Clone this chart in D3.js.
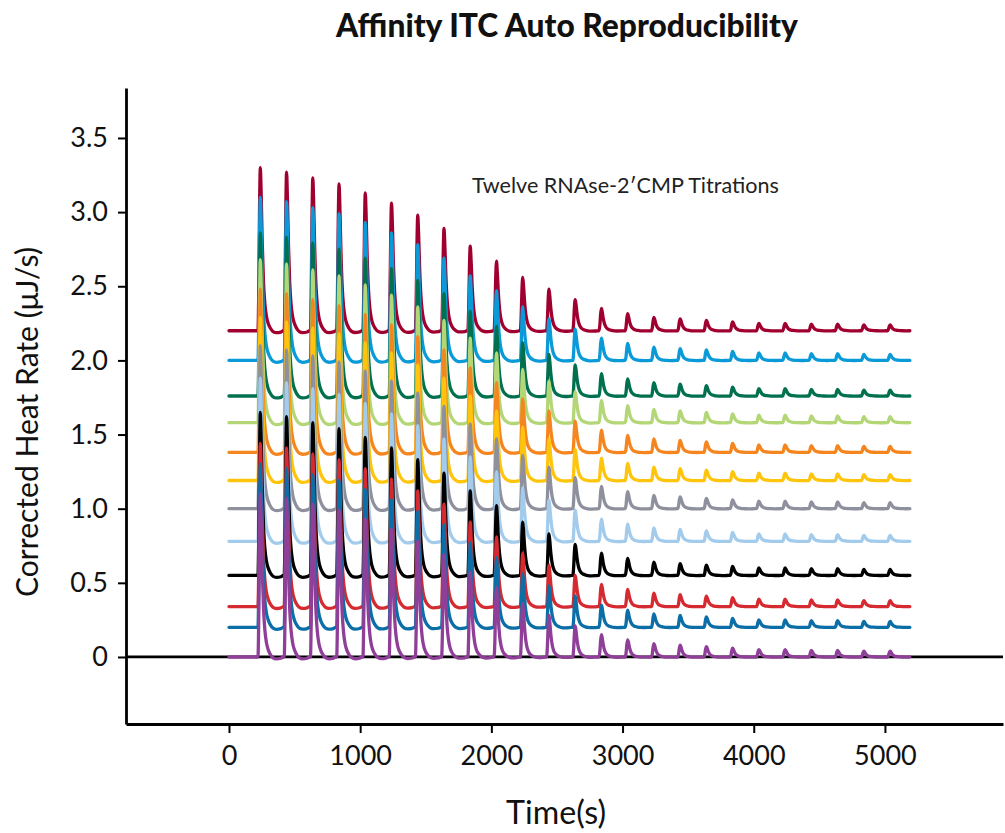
<!DOCTYPE html>
<html>
<head>
<meta charset="utf-8">
<script src="https://cdn.jsdelivr.net/npm/d3@7"></script>
<style>
  html, body { margin: 0; padding: 0; background: #fff; }
  svg { display: block; font-family: Lato, "Open Sans", sans-serif; }
</style>
</head>
<body>
<svg id="chart" width="1005" height="833"></svg>
<script>
// ---------------- data ----------------
const chartTitle = "Affinity ITC Auto Reproducibility";
const annotation = "Twelve RNAse-2\u2032CMP Titrations";
const xLabel = "Time(s)";
const yLabel = "Corrected Heat Rate (\u03bcJ/s)";

const seriesNames = ["Run 1","Run 2","Run 3","Run 4","Run 5","Run 6",
                     "Run 7","Run 8","Run 9","Run 10","Run 11","Run 12"];
// baseline offset of each stacked thermogram (µJ/s)
const baselines = [2.20, 2.00, 1.76, 1.58, 1.38, 1.19, 1.00, 0.78, 0.55, 0.34, 0.20, 0.00];
const seriesColors = ["#a0002f","#0b9ad8","#00704e","#b3d676","#f5861f","#ffc50d",
                      "#8e909d","#a3cbec","#000000","#d62a31","#0b6ea7","#8f3f98"];

// injection start times (s) and peak heights above baseline (µJ/s)
const injectionTimes = [221, 421, 621, 821, 1021, 1221, 1421, 1621, 1821, 2021,
                        2221, 2421, 2621, 2821, 3021, 3221, 3421, 3621, 3821, 4021,
                        4221, 4421, 4621, 4821, 5021];
const peakHeights = [1.10, 1.07, 1.03, 0.99, 0.93, 0.86, 0.78, 0.69, 0.57, 0.47,
                     0.36, 0.28, 0.21, 0.15, 0.115, 0.09, 0.08, 0.07, 0.06, 0.05,
                     0.05, 0.045, 0.045, 0.04, 0.04];
// shape of one injection peak (time after injection, fraction of peak)
const profileDt   = [0, 6, 12, 18, 24, 32, 42, 52, 64, 78, 95, 115, 140, 175, 194];
const profileFrac = [0, 0.25, 0.75, 1.0, 0.85, 0.55, 0.3, 0.17, 0.09, 0.045, 0.015, -0.005, -0.012, -0.008, 0];
const runStart = 0, runEnd = 5190;

const xTicks = [0, 1000, 2000, 3000, 4000, 5000];
const yTicks = [0, 0.5, 1.0, 1.5, 2.0, 2.5, 3.0, 3.5];
const yTickLabels = ["0", "0.5", "1.0", "1.5", "2.0", "2.5", "3.0", "3.5"];

// ---------------- layout ----------------
const svg = d3.select("#chart");
const pLeft = 126, pRight = 1003, pTop = 88, pBottom = 724;

const x = d3.scaleLinear().domain([-785, 5900]).range([pLeft, pRight]);
const y = d3.scaleLinear().domain([-0.452, 3.837]).range([pBottom, pTop]);

function fitText(sel, target) {
  const n = sel.node();
  const fs = parseFloat(sel.attr("font-size"));
  const len = n.getComputedTextLength();
  if (len > 0) sel.attr("font-size", (fs * target / len).toFixed(2));
}

// title
const title = svg.append("text")
  .attr("x", 567).attr("y", 37)
  .attr("text-anchor", "middle")
  .attr("font-weight", "900")
  .attr("font-size", 26)
  .attr("fill", "#111")
  .text(chartTitle);
fitText(title, 462);

// zero line
svg.append("line")
  .attr("x1", pLeft).attr("x2", pRight)
  .attr("y1", y(0)).attr("y2", y(0))
  .attr("stroke", "#000").attr("stroke-width", 2.8);

// series
const line = d3.line()
  .x(d => x(d[0])).y(d => y(d[1]))
  .curve(d3.curveMonotoneX);

function buildSeries(base) {
  const pts = [[runStart, base]];
  injectionTimes.forEach((t0, k) => {
    profileDt.forEach((dt, j) => {
      const t = t0 + dt;
      if (t <= runEnd) pts.push([t, base + peakHeights[k] * profileFrac[j]]);
    });
  });
  pts.push([runEnd, base]);
  return pts;
}

svg.append("g").selectAll("path")
  .data(seriesNames.map((name, i) => ({ name, color: seriesColors[i], pts: buildSeries(baselines[i]) })))
  .join("path")
  .attr("d", d => line(d.pts))
  .attr("fill", "none")
  .attr("stroke", d => d.color)
  .attr("stroke-width", 3.3)
  .attr("stroke-linejoin", "round")
  .attr("stroke-linecap", "round");

// annotation
const ann = svg.append("text")
  .attr("x", 472).attr("y", 193)
  .attr("font-size", 18)
  .attr("fill", "#222")
  .text(annotation);
fitText(ann, 307);

// axes
const yAxis = svg.append("g")
  .attr("transform", `translate(${pLeft},0)`)
  .call(d3.axisLeft(y).tickValues(yTicks).tickFormat((d, i) => yTickLabels[i]).tickSize(8).tickSizeOuter(0).tickPadding(10));
const xAxis = svg.append("g")
  .attr("transform", `translate(0,${pBottom})`)
  .call(d3.axisBottom(x).tickValues(xTicks).tickFormat(d3.format("d")).tickSize(9).tickSizeOuter(0).tickPadding(13));

[yAxis, xAxis].forEach(g => {
  g.select(".domain").attr("stroke", "#000").attr("stroke-width", 2.8);
  g.selectAll(".tick line").attr("stroke", "#000").attr("stroke-width", 2);
  g.selectAll(".tick text")
    .attr("font-family", "Lato, 'Open Sans', sans-serif")
    .attr("font-size", 27)
    .attr("fill", "#111");
});
xAxis.selectAll(".tick text").attr("dy", "0.71em");

// axis titles
const xl = svg.append("text")
  .attr("x", 556).attr("y", 824)
  .attr("text-anchor", "middle")
  .attr("font-size", 28)
  .attr("fill", "#111")
  .text(xLabel);
fitText(xl, 100);

const yl = svg.append("text")
  .attr("transform", "translate(38,422) rotate(-90)")
  .attr("text-anchor", "middle")
  .attr("font-size", 28)
  .attr("fill", "#111")
  .text(yLabel);
fitText(yl, 350);
</script>
</body>
</html>
